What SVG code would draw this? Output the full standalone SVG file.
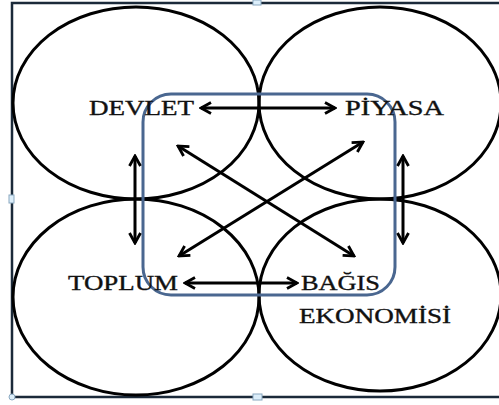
<svg xmlns="http://www.w3.org/2000/svg" width="499" height="405" viewBox="0 0 499 405">
<style>
.c{fill:none;stroke:#000;stroke-width:3}
.t{font-family:"Liberation Serif","Times New Roman",serif;font-size:20px;fill:#111;stroke:#111;stroke-width:0.35}
.a{fill:none;stroke:#000;stroke-width:3}
.h{fill:#dceefa;stroke:#8aa8c0;stroke-width:1}
</style>
<defs>
<marker id="ah" viewBox="0 0 14 14" refX="12" refY="7" markerWidth="14" markerHeight="14" markerUnits="userSpaceOnUse" orient="auto-start-reverse">
<path d="M2,1.5 L12,7 L2,12.5" fill="none" stroke="#000" stroke-width="2.8"/>
</marker>
</defs>
<rect width="499" height="405" fill="#fff"/>
<g id="frame">
<path d="M12,398 V3 H499" fill="none" stroke="#1b2a3a" stroke-width="2.5"/>
<path d="M12,397 H499" fill="none" stroke="#1b2a3a" stroke-width="2.5"/>
<rect class="h" x="253" y="0" width="8" height="5"/>
<rect class="h" x="9" y="195" width="5" height="8"/>
<rect class="h" x="253" y="394" width="9" height="6"/>
<circle class="h" cx="12" cy="397" r="3"/>
</g>
<g id="devlet-circle"><ellipse class="c" cx="136" cy="103" rx="123" ry="96"/></g>
<g id="piyasa-circle"><ellipse class="c" cx="380" cy="103" rx="121" ry="96"/></g>
<g id="toplum-circle"><ellipse class="c" cx="136" cy="297" rx="123" ry="98"/></g>
<g id="bagis-circle"><ellipse class="c" cx="380" cy="295" rx="121" ry="96"/></g>
<g id="center-box"><rect x="143" y="94" width="252" height="201" rx="28" fill="none" stroke="#4a6790" stroke-width="3"/></g>
<g id="connectors">
<line class="a" x1="201" y1="108" x2="335" y2="108" marker-start="url(#ah)" marker-end="url(#ah)"/>
<line class="a" x1="185" y1="283" x2="297" y2="283" marker-start="url(#ah)" marker-end="url(#ah)"/>
<line class="a" x1="135" y1="156" x2="135" y2="243" marker-start="url(#ah)" marker-end="url(#ah)"/>
<line class="a" x1="403" y1="156" x2="403" y2="243" marker-start="url(#ah)" marker-end="url(#ah)"/>
<line class="a" x1="178" y1="146" x2="354" y2="256" marker-start="url(#ah)" marker-end="url(#ah)"/>
<line class="a" x1="363" y1="142" x2="179" y2="256" marker-start="url(#ah)" marker-end="url(#ah)"/>
</g>
<g id="devlet"><text class="t" x="89" y="115" textLength="105" lengthAdjust="spacingAndGlyphs">DEVLET</text></g>
<g id="piyasa"><text class="t" x="345" y="115" textLength="99" lengthAdjust="spacingAndGlyphs">PİYASA</text></g>
<g id="toplum"><text class="t" x="68" y="290" textLength="110" lengthAdjust="spacingAndGlyphs">TOPLUM</text></g>
<g id="bagis"><text class="t" x="301" y="290" textLength="79" lengthAdjust="spacingAndGlyphs">BAĞIS</text>
<text class="t" x="299" y="323" textLength="152" lengthAdjust="spacingAndGlyphs">EKONOMİSİ</text></g>
</svg>
